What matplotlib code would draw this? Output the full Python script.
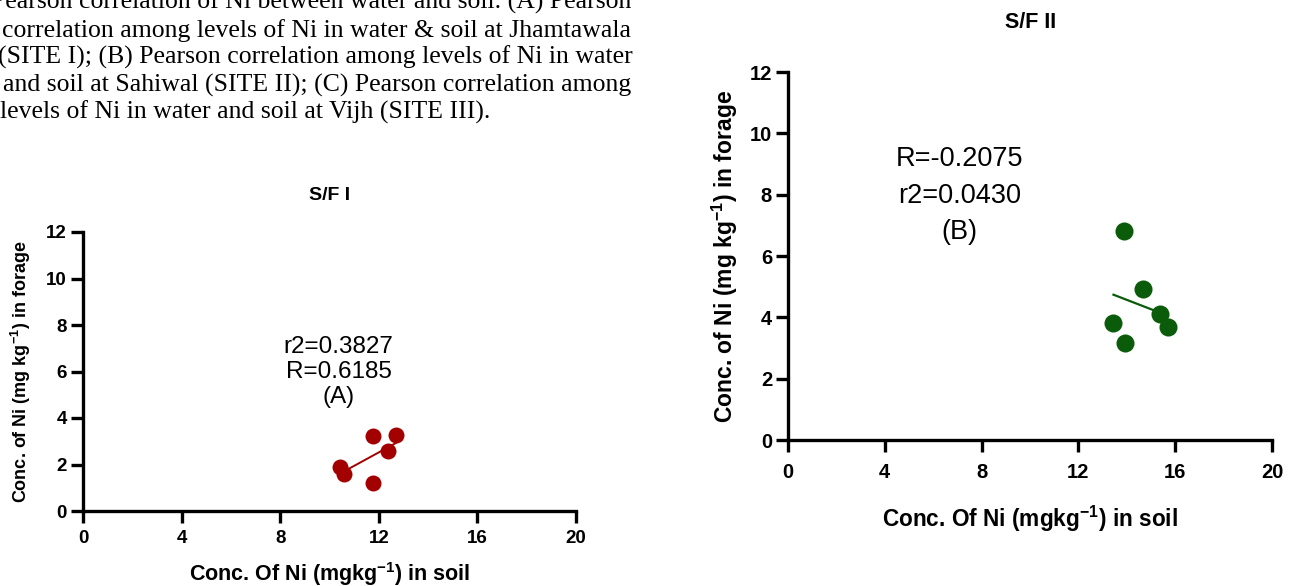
import numpy as np
import matplotlib.pyplot as plt

plt.rcParams['font.family'] = ['Liberation Sans', 'DejaVu Sans']
plt.rcParams['mathtext.fontset'] = 'custom'
plt.rcParams['mathtext.bf'] = 'Liberation Sans:bold'
plt.rcParams['mathtext.default'] = 'bf'

# data
soil_site1 = [11.78, 12.68, 12.36, 10.44, 10.58, 11.78]
forage_site1 = [3.23, 3.27, 2.56, 1.88, 1.59, 1.22]
soil_site2 = [13.89, 14.65, 15.39, 15.70, 13.45, 13.94]
forage_site2 = [6.80, 4.92, 4.11, 3.67, 3.83, 3.17]

x_ticks = [0, 4, 8, 12, 16, 20]
y_ticks = [0, 2, 4, 6, 8, 10, 12]

titles = ['S/F I', 'S/F II']
notes1 = ['r2=0.3827', 'R=0.6185', '(A)']
notes2 = ['R=-0.2075', 'r2=0.0430', '(B)']

caption = [
    'Pearson correlation of Ni between water and soil. (A) Pearson',
    'correlation among levels of Ni in water & soil at Jhamtawala',
    '(SITE I); (B) Pearson correlation among levels of Ni in water',
    'and soil at Sahiwal (SITE II); (C) Pearson correlation among',
    'levels of Ni in water and soil at Vijh (SITE III).',
]

W, H = 1298, 586
fig = plt.figure(figsize=(W / 100, H / 100), dpi=100)

# caption text block (cut off at the left edge like the source)
baselines = [9, 37, 64, 92, 119]
ends = [631, 631, 633, 631, 490]
for line, b, e in zip(caption, baselines, ends):
    fig.text(e / W, 1 - b / H, line, ha='right', va='baseline',
             family='Liberation Serif', fontsize=18.5)


def panel(rect, xs, ys, color, tick_fs, xl_fs, yl_fs, ms, lw, xpad, xl_y, yl_x):
    ax = fig.add_axes(rect)
    ax.plot(xs, ys, 'o', color=color, markersize=ms, markeredgewidth=0, zorder=3)
    k, b = np.polyfit(xs, ys, 1)
    xx = np.array([min(xs), max(xs)])
    ax.plot(xx, k * xx + b, color=color, lw=lw)
    ax.set_xlim(0, 20)
    ax.set_ylim(0, 12)
    ax.set_xticks(x_ticks)
    ax.set_yticks(y_ticks)
    for s in ['top', 'right']:
        ax.spines[s].set_visible(False)
    for s in ['left', 'bottom']:
        ax.spines[s].set_linewidth(2.4)
    ax.tick_params(width=2.4, length=8.5, labelsize=tick_fs)
    ax.tick_params(axis='y', pad=3)
    ax.tick_params(axis='x', pad=xpad)
    for lab in ax.get_xticklabels() + ax.get_yticklabels():
        lab.set_fontweight('bold')
    ax.set_xlabel(r'Conc. Of Ni (mgkg$^{-1}$) in soil', fontsize=xl_fs, fontweight='bold')
    ax.set_ylabel(r'Conc. of Ni (mg kg$^{-1}$) in forage', fontsize=yl_fs, fontweight='bold')
    ax.xaxis.set_label_coords(0.5, xl_y)
    ax.yaxis.set_label_coords(yl_x, 0.5)
    return ax


ax1 = panel([83 / W, (H - 511) / H, 493 / W, 279 / H], soil_site1, forage_site1,
            '#a30000', 13.5, 15.5, 13, 11.5, 1.4, 5, -0.176, -0.101)
ax2 = panel([788 / W, (H - 440) / H, 484 / W, 368 / H], soil_site2, forage_site2,
            '#0a5c0a', 14.5, 16.3, 16.5, 13, 1.6, 8, -0.174, -0.099)

fig.text(330 / W, 1 - 195 / H, titles[0], ha='center', va='center',
         fontsize=14, fontweight='bold')
fig.text(1031 / W, 1 - 22 / H, titles[1], ha='center', va='center',
         fontsize=15.5, fontweight='bold')

for txt, y in zip(notes1, [7.05, 5.96, 4.9]):
    ax1.text(10.37, y, txt, ha='center', va='center', fontsize=17.5)
for txt, y in zip(notes2, [9.15, 7.97, 6.78]):
    ax2.text(7.1, y, txt, ha='center', va='center', fontsize=19.5)

fig.savefig('out.png', dpi=100)
